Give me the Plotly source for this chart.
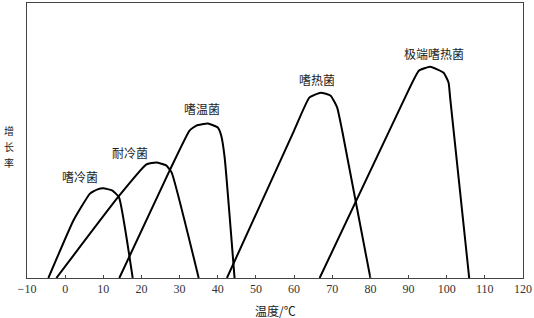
import plotly.graph_objects as go

# Growth-rate curves (relative units) vs temperature (°C)
psychrophile_t = [-4.4, 2.2, 6.5, 8.5, 10.0, 12.3, 14.1, 17.7]
psychrophile_g = [0, 58, 84.7, 89, 90, 88, 81, 0]

psychrotroph_t = [-2.3, 13.9, 21.3, 23.9, 26.5, 27.9, 35.0]
psychrotroph_g = [0, 81.3, 114, 116, 113, 106, 0]

mesophile_t = [14.2, 27.4, 32.6, 34.4, 37.4, 40.0, 40.9, 41.8, 44.4]
mesophile_g = [0, 108, 148, 153, 155, 151, 143, 121, 0]

thermophile_t = [42.4, 60.0, 64.0, 67.0, 69.6, 71.3, 72.6, 80.0]
thermophile_g = [0, 148, 181, 186, 183, 171, 148, 0]

hyper_t = [66.7, 88.7, 92.7, 95.7, 99.2, 100.5, 100.9, 105.9]
hyper_g = [0, 178, 208, 212, 206, 196, 181, 0]

labels = ["嗜冷菌", "耐冷菌", "嗜温菌", "嗜热菌", "极端嗜热菌"]
label_t = [3.9, 17.0, 35.9, 66.0, 96.6]
label_g = [102, 126, 170, 199, 225]

y_title_chars = ["增", "长", "率"]
x_title = "温度/℃"

tick_vals = [-10, 0, 10, 20, 30, 40, 50, 60, 70, 80, 90, 100, 110, 120]
tick_text = ["−10", "0", "10", "20", "30", "40", "50", "60", "70", "80", "90", "100", "110", "120"]

fig = go.Figure()
for t, g in [(psychrophile_t, psychrophile_g), (psychrotroph_t, psychrotroph_g),
             (mesophile_t, mesophile_g), (thermophile_t, thermophile_g), (hyper_t, hyper_g)]:
    fig.add_trace(go.Scatter(x=t, y=g, mode="lines",
                             line=dict(color="black", width=2, shape="spline", smoothing=0.4),
                             showlegend=False, hoverinfo="skip"))

cjk = "Noto Sans CJK SC"
for txt, t, g in zip(labels, label_t, label_g):
    fig.add_annotation(x=t, y=g, text=txt, showarrow=False, xref="x", yref="y",
                       xanchor="center", yanchor="middle",
                       font=dict(family=cjk, size=12, color="#222"))

for i, ch in enumerate(y_title_chars):
    fig.add_annotation(x=-0.036, y=(278 - (130 + 16 * i)) / 276, xref="paper", yref="paper",
                       text=ch, showarrow=False, xanchor="center", yanchor="middle",
                       borderpad=0,
                       font=dict(family=cjk, size=10, color="#222"))

fig.add_annotation(x=0.5, y=(278 - 311) / 276, xref="paper", yref="paper", text=x_title,
                   showarrow=False, xanchor="center", yanchor="middle",
                   font=dict(family=cjk, size=12, color="#222"))

fig.update_layout(
    width=534, height=318,
    margin=dict(l=27, r=9, t=2, b=40),
    plot_bgcolor="white", paper_bgcolor="white",
    xaxis=dict(range=[-10, 120], tickvals=tick_vals, ticktext=tick_text,
               showgrid=False, zeroline=False, showline=True, linecolor="#444", linewidth=1,
               mirror=True, ticks="inside", ticklen=3, tickcolor="#444",
               tickfont=dict(family="Liberation Serif", size=12, color="#333")),
    yaxis=dict(range=[0, 276], showgrid=False, zeroline=False, showline=True, linecolor="#444",
               linewidth=1, mirror=True, showticklabels=False, ticks=""),
)

fig.write_html("out.html")
